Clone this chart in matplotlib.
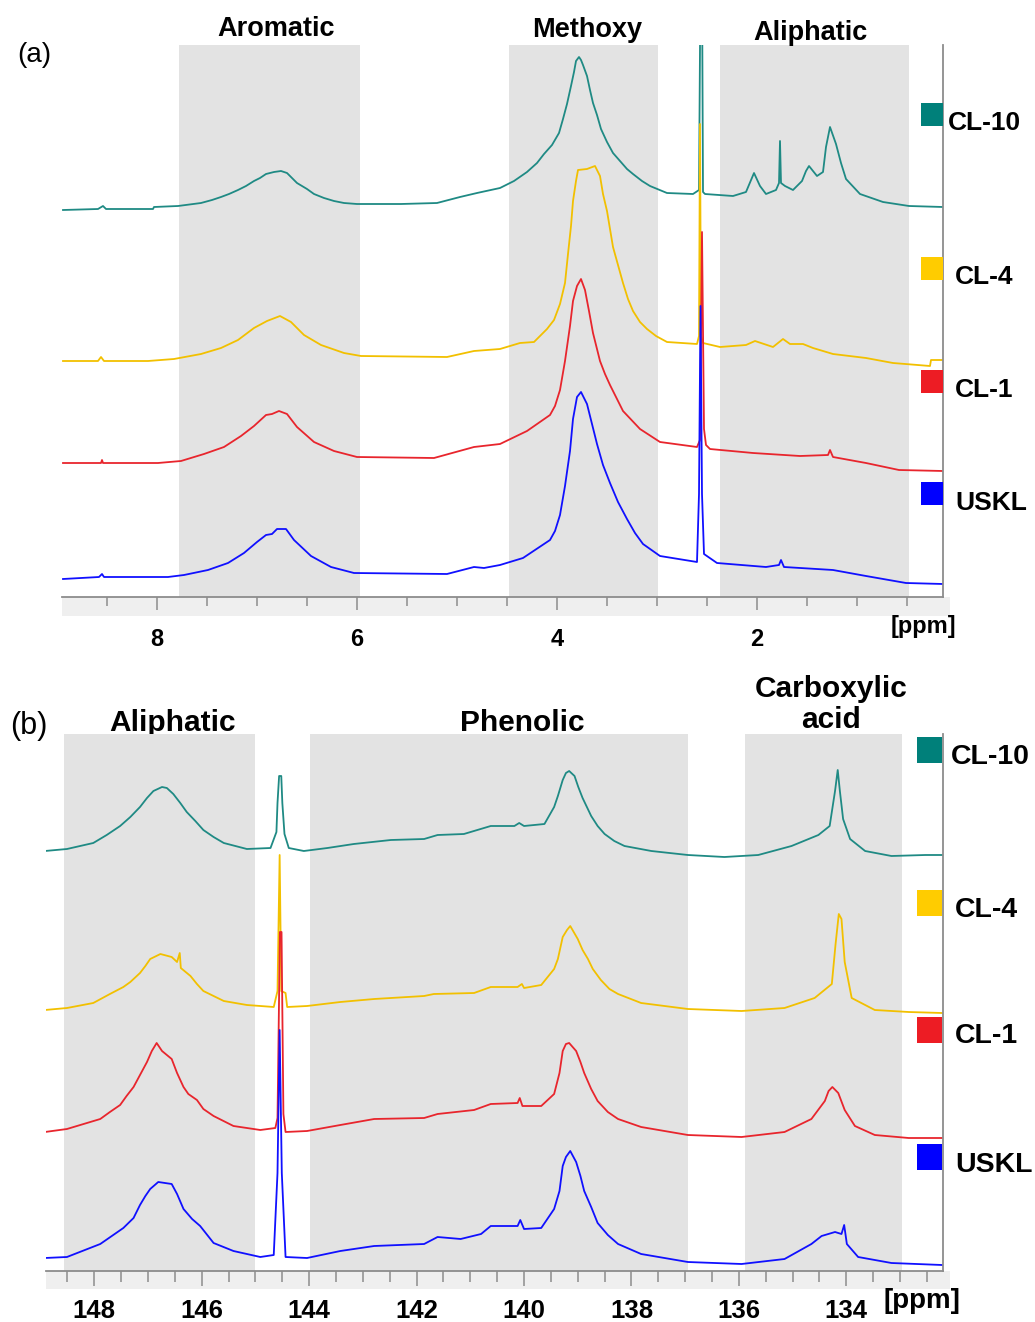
import matplotlib.pyplot as plt
from matplotlib.patches import Rectangle
from matplotlib.ticker import MultipleLocator

plt.rcParams['font.family'] = ['Liberation Sans', 'DejaVu Sans']

W, H = 1035, 1322

samples = ['CL-10', 'CL-4', 'CL-1', 'USKL']
line_colors = ['#1f8a84', '#f2c000', '#e8252d', '#1010ff']
box_colors = ['#00807a', '#ffcc00', '#ed1c24', '#0000ff']

# (a) 1H NMR, ppm and intensity (a.u.)
a_cl10_ppm = [8.94, 8.59, 8.54, 8.51, 8.04, 8.03, 7.79, 7.56, 7.45, 7.36, 7.28, 7.19, 7.11, 7.03,
              6.97, 6.91, 6.83, 6.76, 6.70, 6.60, 6.50, 6.43, 6.33, 6.23, 6.13, 6.00, 5.56, 5.20,
              4.97, 4.80, 4.57, 4.43, 4.30, 4.20, 4.13, 4.05, 3.98, 3.94, 3.90, 3.86, 3.83, 3.81,
              3.78, 3.76, 3.74, 3.70, 3.67, 3.64, 3.60, 3.56, 3.50, 3.44, 3.37, 3.30, 3.24, 3.15,
              3.07, 2.90, 2.64, 2.58, 2.565, 2.55, 2.54, 2.52, 2.24, 2.11, 2.03, 1.97, 1.91, 1.81,
              1.78, 1.77, 1.76, 1.72, 1.64, 1.55, 1.51, 1.48, 1.40, 1.34, 1.31, 1.27, 1.21, 1.16,
              1.11, 0.97, 0.74, 0.48, 0.14]
a_cl10_int = [387, 388, 391, 388, 388, 390, 391, 394, 397, 400, 403, 407, 411, 416,
              419, 423, 425, 426, 424, 414, 408, 403, 399, 396, 394, 393, 393, 394,
              400, 404, 409, 416, 425, 434, 443, 452, 464, 478, 493, 511, 525, 536,
              540, 537, 532, 521, 507, 494, 482, 468, 455, 444, 436, 428, 423, 416,
              411, 404, 403, 407, 620, 620, 405, 403, 401, 405, 424, 411, 403, 407,
              414, 456, 414, 411, 407, 416, 426, 431, 421, 425, 450, 470, 453, 434,
              418, 403, 395, 391, 390]

a_cl4_ppm = [8.94, 8.59, 8.56, 8.53, 8.09, 7.83, 7.56, 7.36, 7.19, 7.03, 6.90, 6.77, 6.66, 6.53,
             6.36, 6.13, 5.96, 5.10, 4.83, 4.57, 4.37, 4.23, 4.10, 4.03, 3.97, 3.92, 3.89, 3.86,
             3.84, 3.81, 3.79, 3.70, 3.62, 3.57, 3.54, 3.50, 3.47, 3.44, 3.39, 3.34, 3.29, 3.24,
             3.17, 3.10, 3.01, 2.90, 2.60, 2.58, 2.57, 2.56, 2.54, 2.37, 2.11, 2.02, 1.84, 1.74,
             1.67, 1.54, 1.44, 1.24, 0.91, 0.64, 0.27, 0.26, 0.14]
a_cl4_int = [236, 236, 240, 236, 236, 238, 243, 249, 257, 269, 276, 281, 275, 262,
             252, 244, 241, 240, 246, 248, 254, 255, 268, 277, 293, 314, 343, 371,
             396, 416, 427, 428, 431, 421, 403, 386, 368, 350, 332, 314, 298, 286,
             275, 268, 261, 255, 253, 261, 473, 261, 254, 250, 252, 256, 250, 258,
             253, 253, 249, 243, 239, 234, 231, 237, 237]

a_cl1_ppm = [8.94, 8.56, 8.55, 8.54, 7.99, 7.76, 7.53, 7.33, 7.16, 7.03, 6.91, 6.85, 6.78, 6.70,
             6.60, 6.43, 6.23, 6.00, 5.23, 4.83, 4.57, 4.30, 4.07, 4.02, 3.97, 3.92, 3.87, 3.84,
             3.80, 3.76, 3.72, 3.68, 3.64, 3.57, 3.52, 3.47, 3.40, 3.34, 3.17, 2.97, 2.60, 2.57,
             2.55, 2.53, 2.51, 2.47, 2.04, 1.57, 1.29, 1.27, 1.24, 0.91, 0.58, 0.14]
a_cl1_int = [134, 134, 137, 134, 134, 136, 143, 150, 161, 171, 182, 183, 186, 183,
             170, 155, 146, 140, 139, 150, 153, 166, 182, 191, 207, 236, 271, 296,
             311, 318, 307, 286, 264, 236, 223, 212, 198, 186, 168, 155, 150, 157,
             365, 168, 152, 148, 144, 141, 142, 147, 140, 134, 127, 126]

a_uskl_ppm = [8.94, 8.58, 8.55, 8.53, 7.89, 7.73, 7.49, 7.29, 7.13, 7.00, 6.91, 6.85, 6.80, 6.71,
              6.63, 6.46, 6.26, 6.03, 5.10, 4.83, 4.73, 4.57, 4.34, 4.07, 4.02, 3.97, 3.92, 3.87,
              3.84, 3.80, 3.76, 3.70, 3.65, 3.60, 3.54, 3.47, 3.39, 3.30, 3.22, 3.14, 2.97, 2.60,
              2.58, 2.565, 2.55, 2.53, 2.40, 1.91, 1.78, 1.76, 1.73, 1.24, 0.91, 0.51, 0.14]
a_uskl_int = [18, 20, 23, 20, 20, 22, 27, 34, 44, 55, 62, 63, 68, 68,
              57, 41, 30, 24, 23, 30, 29, 32, 39, 57, 66, 82, 111, 146,
              178, 200, 205, 193, 173, 153, 132, 114, 95, 78, 64, 53, 41, 35,
              103, 291, 103, 43, 34, 30, 32, 37, 30, 27, 21, 14, 13]

# (b) 31P NMR
b_cl10_ppm = [148.92, 148.51, 148.02, 147.77, 147.52, 147.33, 147.15, 147.02, 146.90, 146.74,
              146.65, 146.53, 146.40, 146.28, 146.12, 145.97, 145.78, 145.59, 145.16, 144.72,
              144.61, 144.59, 144.56, 144.52, 144.50, 144.46, 144.38, 144.10, 143.66, 143.17,
              142.48, 141.86, 141.61, 141.12, 140.62, 140.18, 140.09, 140.00, 139.62, 139.44,
              139.37, 139.28, 139.22, 139.16, 139.06, 138.99, 138.91, 138.83, 138.75, 138.63,
              138.50, 138.32, 138.13, 137.63, 136.95, 136.27, 135.64, 135.02, 134.52, 134.31,
              134.21, 134.16, 134.12, 134.06, 133.93, 133.65, 133.16, 132.53, 132.22]
b_cl10_int = [420, 422, 428, 436, 445, 454, 464, 473, 480, 484,
              483, 477, 468, 459, 450, 441, 434, 428, 422, 423,
              439, 468, 495, 495, 468, 437, 423, 420, 423, 427,
              431, 432, 436, 437, 445, 445, 448, 445, 447, 464,
              475, 491, 498, 500, 495, 484, 473, 464, 455, 445,
              437, 430, 425, 420, 416, 414, 416, 425, 436, 445,
              480, 501, 480, 452, 432, 420, 415, 416, 416]

b_cl4_ppm = [148.92, 148.51, 148.02, 147.71, 147.46, 147.33, 147.15, 147.05, 146.96, 146.77,
             146.56, 146.46, 146.41, 146.39, 146.21, 146.09, 145.97, 145.78, 145.59, 145.16,
             144.66, 144.59, 144.55, 144.52, 144.44, 144.41, 144.04, 143.42, 142.79, 141.86,
             141.68, 140.93, 140.62, 140.12, 140.04, 140.00, 139.68, 139.44, 139.37, 139.28,
             139.20, 139.14, 139.00, 138.91, 138.81, 138.72, 138.57, 138.41, 138.25, 137.82,
             136.95, 135.95, 135.15, 134.59, 134.27, 134.20, 134.14, 134.09, 134.03, 133.90,
             133.47, 132.84, 132.22]
b_cl4_int = [261, 263, 268, 277, 284, 289, 298, 305, 312, 317,
             314, 309, 318, 303, 295, 287, 280, 275, 270, 266,
             264, 280, 416, 280, 278, 264, 265, 269, 272, 275,
             277, 278, 284, 284, 287, 283, 286, 302, 312, 334,
             341, 345, 332, 321, 312, 302, 291, 282, 277, 268,
             262, 260, 263, 273, 287, 327, 357, 352, 309, 273,
             261, 259, 258]

b_cl1_ppm = [148.92, 148.51, 147.89, 147.71, 147.52, 147.40, 147.27, 147.15, 147.02, 146.93,
             146.84, 146.74, 146.56, 146.46, 146.34, 146.25, 146.09, 145.97, 145.78, 145.41,
             144.91, 144.63, 144.59, 144.545, 144.515, 144.48, 144.44, 144.04, 143.42, 142.79,
             141.86, 141.61, 140.93, 140.62, 140.12, 140.08, 140.03, 139.68, 139.44, 139.34,
             139.28, 139.22, 139.16, 139.03, 138.95, 138.88, 138.75, 138.63, 138.44, 138.25,
             137.82, 136.95, 135.95, 135.15, 134.65, 134.40, 134.33, 134.26, 134.15, 134.03,
             133.84, 133.47, 132.84, 132.22]
b_cl1_int = [139, 142, 152, 159, 166, 175, 184, 196, 209, 220,
             228, 220, 212, 198, 184, 177, 171, 162, 155, 145,
             141, 143, 153, 339, 339, 157, 139, 140, 146, 152,
             153, 157, 161, 167, 168, 173, 165, 165, 177, 198,
             220, 227, 228, 220, 209, 198, 182, 170, 159, 152,
             144, 136, 134, 139, 152, 170, 180, 184, 178, 161,
             145, 136, 133, 133]

b_uskl_ppm = [148.92, 148.51, 147.89, 147.46, 147.27, 147.15, 147.05, 146.96, 146.81, 146.56,
              146.46, 146.34, 146.18, 146.03, 145.78, 145.41, 144.91, 144.66, 144.59, 144.55,
              144.51, 144.44, 144.04, 143.42, 142.79, 141.86, 141.61, 141.18, 140.80, 140.62,
              140.12, 140.07, 140.00, 139.68, 139.44, 139.34, 139.28, 139.22, 139.14, 139.03,
              138.95, 138.88, 138.75, 138.63, 138.44, 138.25, 137.82, 136.95, 135.95, 135.15,
              134.65, 134.46, 134.21, 134.09, 134.04, 133.99, 133.78, 133.16, 132.22]
b_uskl_int = [13, 14, 27, 43, 53, 66, 75, 82, 89, 87,
              77, 62, 52, 45, 28, 20, 14, 16, 98, 241,
              98, 14, 13, 20, 25, 27, 34, 32, 37, 45,
              45, 51, 42, 43, 62, 80, 105, 114, 120, 109,
              95, 80, 64, 48, 36, 27, 17, 9, 7, 12,
              27, 35, 39, 37, 46, 27, 14, 8, 6]

a_regions = [(7.78, 5.97), (4.48, 2.99), (2.37, 0.48)]
a_region_names = ['Aromatic', 'Methoxy', 'Aliphatic']
b_regions = [(148.56, 145.0), (143.99, 136.95), (135.88, 132.97)]
b_region_names = ['Aliphatic', 'Phenolic', 'Carboxylic\nacid']

a_ticks = [8, 6, 4, 2]
b_ticks = [148, 146, 144, 142, 140, 138, 136, 134]


def fx(x):
    return x / W


def fy(y):
    return 1 - y / H


def setup_axis(ax, xlim, ylim, regions, ticks, labelsize, major_len, pad):
    for lo, hi in regions:
        ax.axvspan(lo, hi, color='#e3e3e3', lw=0, zorder=0)
    ax.set_xlim(*xlim)
    ax.set_ylim(*ylim)
    for side in ['top', 'left']:
        ax.spines[side].set_visible(False)
    for side in ['bottom', 'right']:
        ax.spines[side].set_color('#8c8c8c')
        ax.spines[side].set_linewidth(1.3)
    ax.set_yticks([])
    ax.set_xticks(ticks, [str(t) for t in ticks], fontweight='bold', fontsize=labelsize)
    ax.xaxis.set_minor_locator(MultipleLocator(0.5))
    ax.tick_params(axis='x', which='major', length=major_len, width=1.1, color='#8c8c8c', pad=pad)
    ax.tick_params(axis='x', which='minor', length=major_len * 0.7, width=1.1, color='#8c8c8c')


fig = plt.figure(figsize=(W / 100, H / 100), dpi=100)

ax_a = fig.add_axes([fx(62), fy(597), 881 / W, 552 / H])
ax_b = fig.add_axes([fx(46), fy(1271), 897 / W, 537 / H])

setup_axis(ax_a, (8.95, 0.14), (0, 552), a_regions, a_ticks, 17, 9.5, 13)
setup_axis(ax_b, (148.9, 132.2), (0, 537), b_regions, b_ticks, 18.5, 11, 9)

a_data = [(a_cl10_ppm, a_cl10_int), (a_cl4_ppm, a_cl4_int),
          (a_cl1_ppm, a_cl1_int), (a_uskl_ppm, a_uskl_int)]
b_data = [(b_cl10_ppm, b_cl10_int), (b_cl4_ppm, b_cl4_int),
          (b_cl1_ppm, b_cl1_int), (b_uskl_ppm, b_uskl_int)]

for (px, py), c in zip(a_data, line_colors):
    ax_a.plot(px, py, color=c, lw=1.3, zorder=2)
for (px, py), c in zip(b_data, line_colors):
    ax_b.plot(px, py, color=c, lw=1.3, zorder=2)

# light band under the axis lines
fig.add_artist(Rectangle((fx(62), fy(616)), 888 / W, 19 / H, transform=fig.transFigure,
                         color='#efefef', lw=0, zorder=-1))
fig.add_artist(Rectangle((fx(46), fy(1289)), 904 / W, 18 / H, transform=fig.transFigure,
                         color='#efefef', lw=0, zorder=-1))

# region labels
for name, x, y in zip(a_region_names, [276, 587, 810], [36, 37, 40]):
    fig.text(fx(x), fy(y), name, ha='center', va='baseline', fontsize=19.5, fontweight='bold')
for name, x, y in zip(b_region_names, [173, 522, 831], [731, 731, 728]):
    fig.text(fx(x), fy(y), name, ha='center', va='baseline', fontsize=21.5, fontweight='bold',
             linespacing=1.15, zorder=-0.5)

fig.text(fx(17), fy(62), '(a)', ha='left', va='baseline', fontsize=20)
fig.text(fx(10), fy(734), '(b)', ha='left', va='baseline', fontsize=22)

fig.text(fx(923), fy(627), '[ppm]', ha='center', va='center', fontsize=17, fontweight='bold')
fig.text(fx(922), fy(1301), '[ppm]', ha='center', va='center', fontsize=20, fontweight='bold')

# legend boxes beside the right axis line
a_box_top = [103, 257, 370, 482]
a_label_base = [130, 284, 397, 510]
for name, c, top, base in zip(samples, box_colors, a_box_top, a_label_base):
    fig.add_artist(Rectangle((fx(921), fy(top + 23)), 22 / W, 23 / H,
                             transform=fig.transFigure, color=c, lw=0))
    fig.text(fx(948 if name == 'CL-10' else 955), fy(base), name, ha='left', va='baseline',
             fontsize=19, fontweight='bold')

b_box_top = [737, 890, 1017, 1144]
b_label_base = [764, 917, 1043, 1172]
for name, c, top, base in zip(samples, box_colors, b_box_top, b_label_base):
    fig.add_artist(Rectangle((fx(917), fy(top + 26)), 25 / W, 26 / H,
                             transform=fig.transFigure, color=c, lw=0))
    fig.text(fx(951 if name == 'CL-10' else 955), fy(base), name, ha='left', va='baseline',
             fontsize=20.5, fontweight='bold')

fig.savefig('out.png', dpi=100)
